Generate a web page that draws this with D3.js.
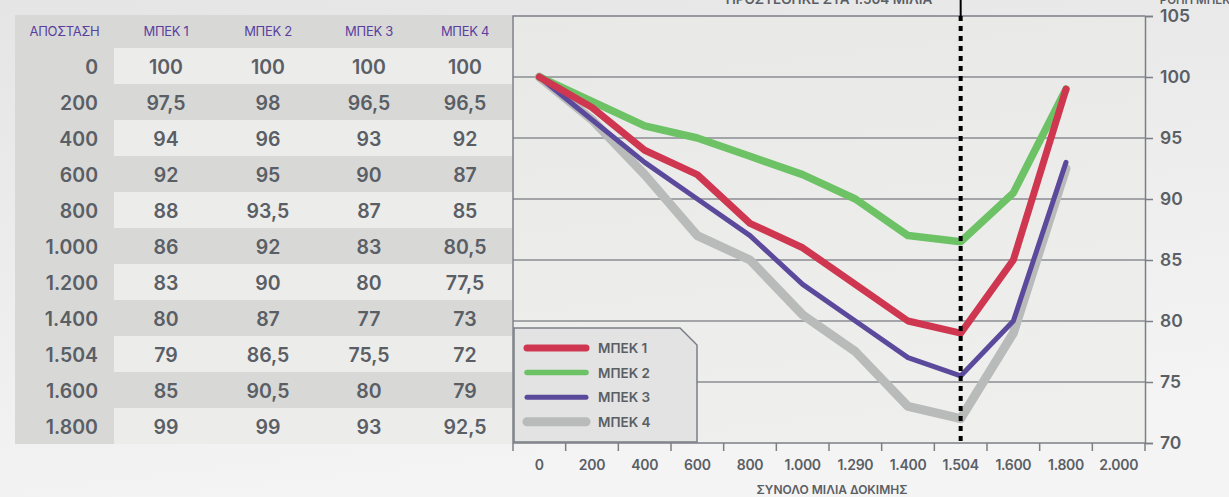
<!DOCTYPE html>
<html>
<head>
<meta charset="utf-8">
<script src="https://d3js.org/d3.v7.min.js"></script>
<style>
  html, body { margin: 0; padding: 0; }
  body { width: 1229px; height: 497px; overflow: hidden; }
  svg { display: block; font-family: Inter, Lato, sans-serif; }
</style>
</head>
<body>
<div id="chart"></div>
<script>
// table rows / chart points
var distances = ["0", "200", "400", "600", "800", "1.000", "1.200", "1.400", "1.504", "1.600", "1.800"];
var xTicks = ["0", "200", "400", "600", "800", "1.000", "1.290", "1.400", "1.504", "1.600", "1.800", "2.000"];
var seriesNames = ["ΜΠΕΚ 1", "ΜΠΕΚ 2", "ΜΠΕΚ 3", "ΜΠΕΚ 4"];
var mpek1 = [100, 97.5, 94, 92, 88, 86, 83, 80, 79, 85, 99];
var mpek2 = [100, 98, 96, 95, 93.5, 92, 90, 87, 86.5, 90.5, 99];
var mpek3 = [100, 96.5, 93, 90, 87, 83, 80, 77, 75.5, 80, 93];
var mpek4 = [100, 96.5, 92, 87, 85, 80.5, 77.5, 73, 72, 79, 92.5];
var yTicks = [70, 75, 80, 85, 90, 95, 100, 105];
var markerAt = "1.504";

(function () {
    var series = [
        { name: seriesNames[0], values: mpek1, color: '#cf3650', width: 7, legendW: 7 },
        { name: seriesNames[1], values: mpek2, color: '#6cc264', width: 7.5, legendW: 5.5 },
        { name: seriesNames[2], values: mpek3, color: '#5b4a9c', width: 5, legendW: 5 },
        { name: seriesNames[3], values: mpek4, color: '#b9baba', width: 9, legendW: 9 }
    ];

    var W = 1229, H = 497;
    var svg = d3.select('#chart').append('svg').attr('width', W).attr('height', H);

    var defs = svg.append('defs');
    var bg = defs.append('linearGradient').attr('id', 'bg')
        .attr('x1', 0).attr('y1', 0).attr('x2', 0.3).attr('y2', 1);
    bg.append('stop').attr('offset', '0%').attr('stop-color', '#e5e5e5');
    bg.append('stop').attr('offset', '100%').attr('stop-color', '#f4f4f4');
    svg.append('rect').attr('width', W).attr('height', H).attr('fill', 'url(#bg)');

    // ---------- table ----------
    var tbl = svg.append('g');
    var tLeft = 15, tRight = 512, firstColW = 99;
    var headTop = 15, headH = 33, rowH = 36;
    var colCenters = [166, 268, 369, 465];
    var textColor = '#5a5e65';
    var numFont = '19.5px';

    tbl.append('rect').attr('x', tLeft).attr('y', headTop).attr('width', tRight - tLeft).attr('height', headH)
        .attr('fill', '#d8d8d7');
    tbl.append('rect').attr('x', tLeft).attr('y', headTop).attr('width', firstColW)
        .attr('height', headH + rowH * distances.length).attr('fill', '#d8d8d7');

    tbl.append('text').attr('x', tLeft + firstColW / 2).attr('y', headTop + 21)
        .attr('text-anchor', 'middle').attr('fill', '#5a3f9e').style('font-size', '13px')
        .style('letter-spacing', '-0.3px').text('ΑΠΟΣΤΑΣΗ');
    tbl.selectAll('.hd').data(seriesNames).enter().append('text')
        .attr('x', function (d, i) { return colCenters[i]; })
        .attr('y', headTop + 21)
        .attr('text-anchor', 'middle').attr('fill', '#5a3f9e').style('font-size', '13px')
        .style('letter-spacing', '-0.3px')
        .text(function (d) { return d; });

    var rows = tbl.selectAll('.row').data(distances).enter().append('g')
        .attr('transform', function (d, i) { return 'translate(0,' + (headTop + headH + i * rowH) + ')'; });
    rows.append('rect').attr('x', tLeft + firstColW).attr('width', tRight - tLeft - firstColW).attr('height', rowH)
        .attr('fill', function (d, i) { return i % 2 ? '#d8d8d7' : '#ececeb'; });
    rows.append('text').attr('x', 98).attr('y', 26).attr('text-anchor', 'end')
        .attr('fill', textColor).style('font-size', numFont).style('font-weight', 600)
        .text(function (d) { return d; });
    rows.each(function (d, i) {
        var g = d3.select(this);
        series.forEach(function (s, j) {
            g.append('text').attr('x', colCenters[j]).attr('y', 26).attr('text-anchor', 'middle')
                .attr('fill', textColor).style('font-size', numFont).style('font-weight', 600)
                .text(String(s.values[i]).replace('.', ','));
        });
    });

    // ---------- chart ----------
    var pLeft = 513, pRight = 1145, pTop = 16, pBottom = 443;
    var x = d3.scaleBand().domain(xTicks).range([pLeft, pRight]);
    var y = d3.scaleLinear().domain([70, 105]).range([pBottom, pTop]);
    var axisColor = '#7b7f85';

    var plot = svg.append('g');
    plot.append('rect').attr('x', pLeft).attr('y', pTop).attr('width', pRight - pLeft).attr('height', pBottom - pTop)
        .attr('fill', '#e9e9e8').attr('opacity', 0.5);

    // grid
    plot.selectAll('.grid').data(yTicks.filter(function (v) { return v > 70 && v < 105; })).enter().append('line')
        .attr('x1', pLeft).attr('x2', pRight)
        .attr('y1', function (d) { return y(d); }).attr('y2', function (d) { return y(d); })
        .attr('stroke', '#8a8d92').attr('stroke-width', 1.5);

    // frame: top + left
    plot.append('path').attr('d', 'M' + pLeft + ',' + pBottom + 'V' + pTop + 'H' + pRight)
        .attr('fill', 'none').attr('stroke', axisColor).attr('stroke-width', 1.5);

    // right axis
    var yAxis = plot.append('g').attr('transform', 'translate(' + pRight + ',0)')
        .call(d3.axisRight(y).tickValues(yTicks).tickSize(8).tickPadding(7));
    yAxis.select('.domain').attr('stroke', axisColor).attr('stroke-width', 1.5);
    yAxis.selectAll('.tick line').attr('stroke', axisColor).attr('stroke-width', 1.5);
    yAxis.selectAll('.tick text').attr('fill', textColor).style('font-size', '17.5px').style('font-weight', 600)
        .style('font-family', 'Inter, sans-serif');

    // bottom axis
    var xAxis = plot.append('g').attr('transform', 'translate(0,' + pBottom + ')')
        .call(d3.axisBottom(x).tickSize(0).tickPadding(17));
    xAxis.select('.domain').remove();
    xAxis.append('line').attr('x1', pLeft).attr('x2', pRight).attr('stroke', axisColor).attr('stroke-width', 1.5);
    xAxis.selectAll('.bt').data(xTicks.concat(['end'])).enter().append('line')
        .attr('x1', function (d) { return d === 'end' ? pRight : x(d); })
        .attr('x2', function (d) { return d === 'end' ? pRight : x(d); })
        .attr('y1', 0).attr('y2', 8).attr('stroke', axisColor).attr('stroke-width', 1.5);
    xAxis.selectAll('.tick text').attr('fill', textColor).style('font-size', '14px').style('font-weight', 600)
        .style('font-family', 'Inter, sans-serif').style('letter-spacing', '-0.3px');

    plot.append('text').attr('x', 832).attr('y', 494).attr('text-anchor', 'middle')
        .attr('fill', textColor).style('font-size', '12px').style('font-weight', 600)
        .text('ΣΥΝΟΛΟ ΜΙΛΙΑ ΔΟΚΙΜΗΣ');
    plot.append('text').attr('x', 1195).attr('y', 4).attr('text-anchor', 'middle')
        .attr('fill', textColor).style('font-size', '11.5px').style('font-weight', 600)
        .text('ΡΟΠΗ ΜΠΕΚ');
    plot.append('text').attr('x', 829).attr('y', 4).attr('text-anchor', 'middle')
        .attr('fill', textColor).style('font-size', '13.5px').style('font-weight', 600)
        .text('ΠΡΟΣΤΕΘΗΚΕ ΣΤΑ 1.504 ΜΙΛΙΑ');

    // lines
    var line = d3.line()
        .x(function (d, i) { return x(xTicks[i]) + x.bandwidth() / 2; })
        .y(function (d) { return y(d); });
    var drawOrder = [3, 2, 1, 0];
    plot.selectAll('.series').data(drawOrder.map(function (i) { return series[i]; })).enter().append('path')
        .attr('d', function (s) { return line(s.values); })
        .attr('fill', 'none').attr('stroke', function (s) { return s.color; })
        .attr('stroke-width', function (s) { return s.width; })
        .attr('stroke-linejoin', 'round').attr('stroke-linecap', 'round');

    // marker
    var mx = x(markerAt) + x.bandwidth() / 2;
    plot.append('line').attr('x1', mx).attr('x2', mx).attr('y1', 0).attr('y2', pTop)
        .attr('stroke', '#000').attr('stroke-width', 2);
    plot.append('line').attr('x1', mx).attr('x2', mx).attr('y1', pTop).attr('y2', pBottom)
        .attr('stroke', '#000').attr('stroke-width', 4).attr('stroke-dasharray', '5,5');

    // legend
    var lg = svg.append('g');
    var lx0 = 514, ly0 = 328, lx1 = 697, ly1 = 442;
    lg.append('path')
        .attr('d', 'M' + lx0 + ',' + ly0 + 'H' + (lx1 - 17) + 'L' + lx1 + ',' + (ly0 + 17) + 'V' + ly1 + 'H' + lx0 + 'Z')
        .attr('fill', '#e2e3e2').attr('stroke', axisColor).attr('stroke-width', 1.5);
    var li = lg.selectAll('.li').data(series).enter().append('g')
        .attr('transform', function (d, i) { return 'translate(0,' + (348 + i * 24.6) + ')'; });
    li.append('line').attr('x1', 527).attr('x2', 586)
        .attr('stroke', function (d) { return d.color; })
        .attr('stroke-width', function (d) { return d.legendW; })
        .attr('stroke-linecap', 'round');
    li.append('text').attr('x', 598).attr('y', 5).attr('fill', textColor)
        .style('font-size', '13.5px').style('font-weight', 600)
        .text(function (d) { return d.name; });
})();
</script>
</body>
</html>
